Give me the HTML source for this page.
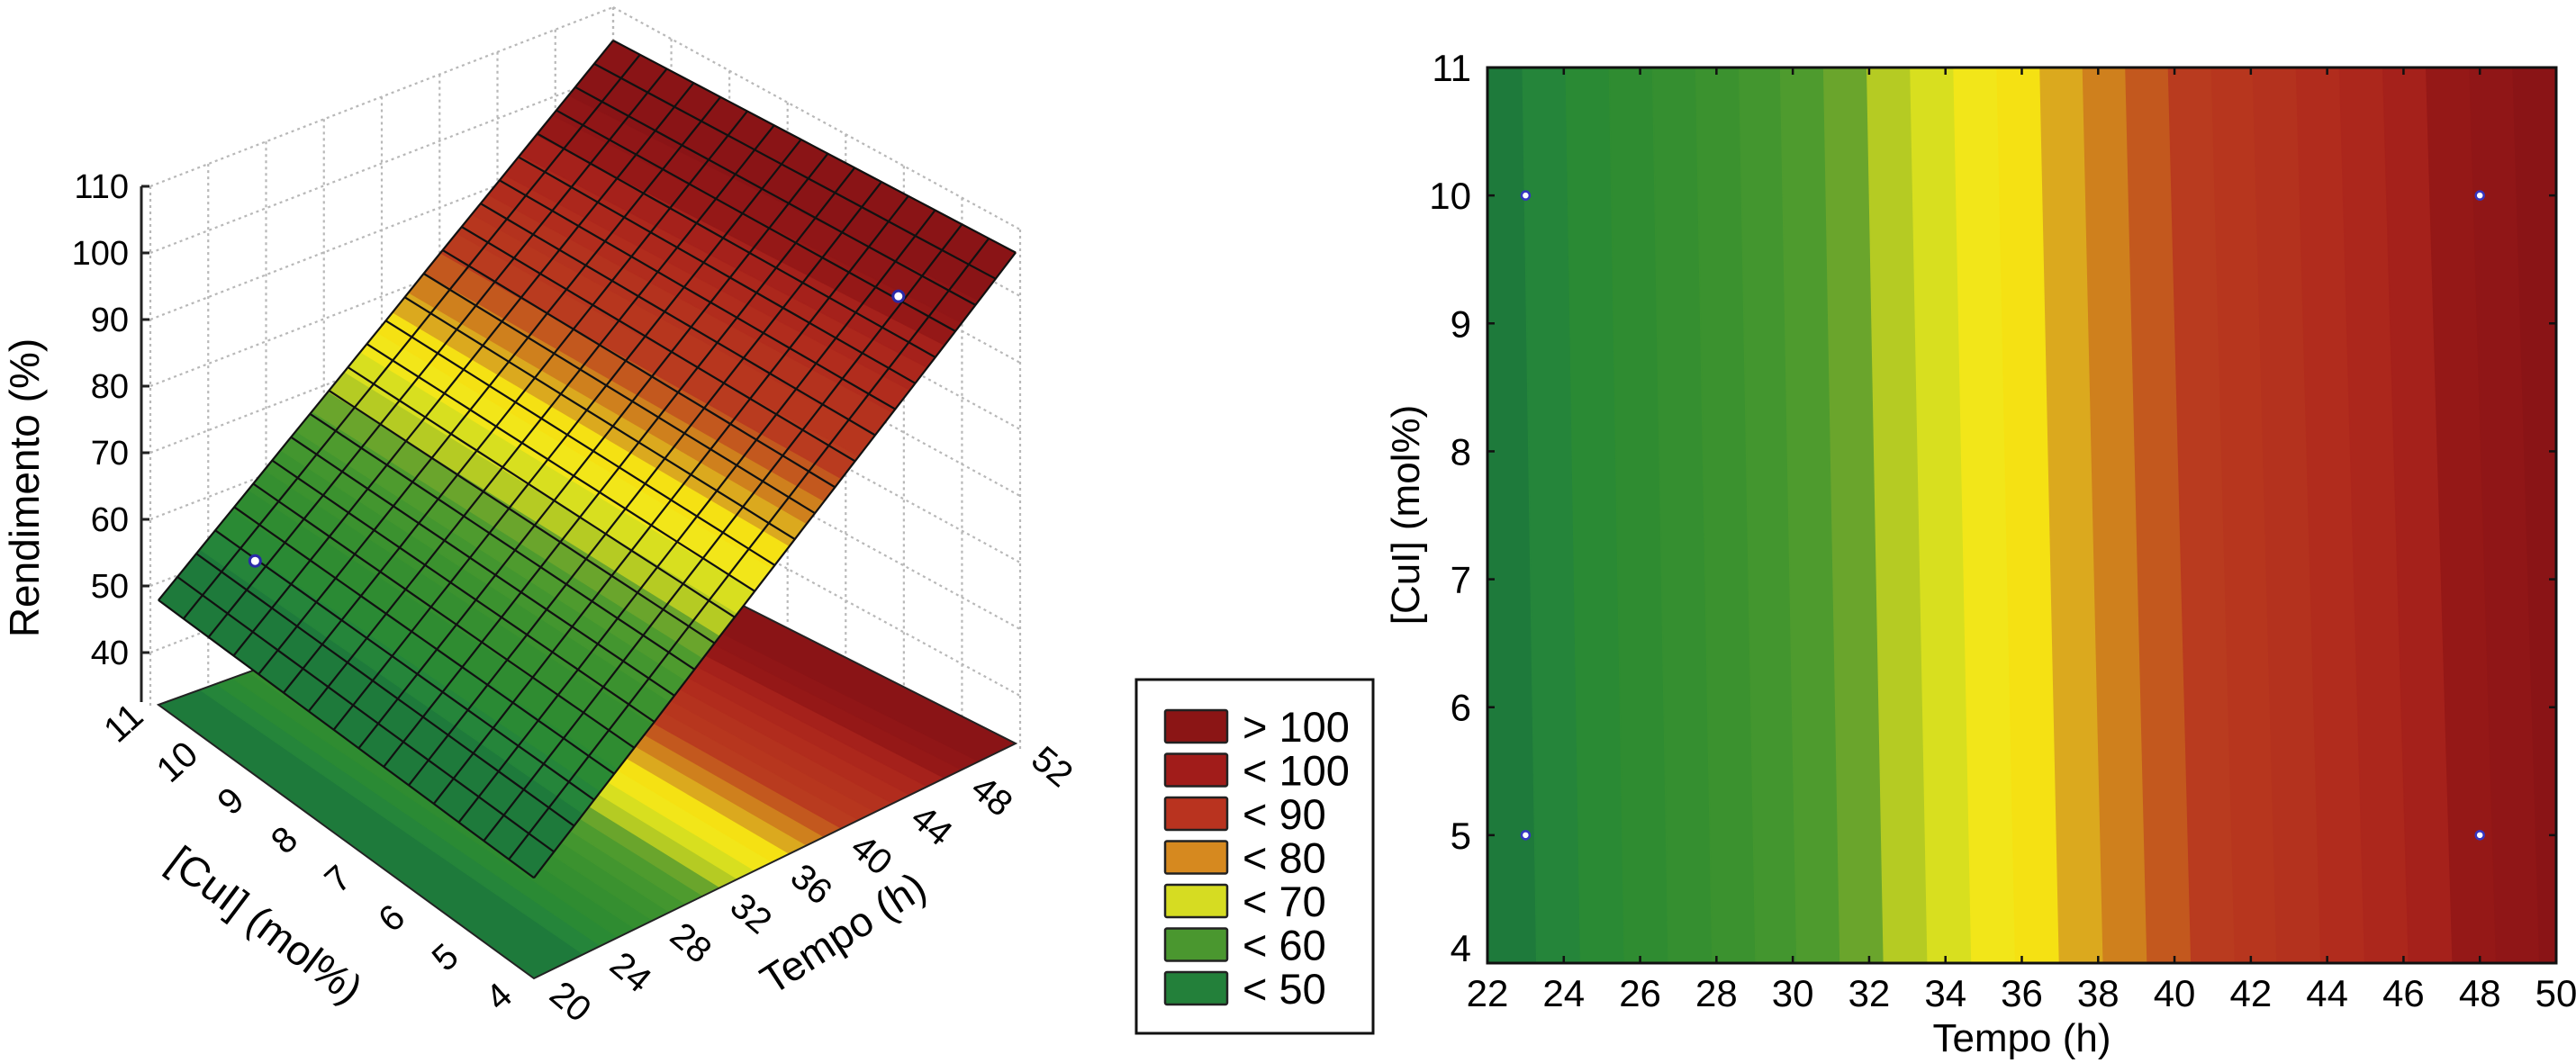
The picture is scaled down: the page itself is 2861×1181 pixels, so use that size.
<!DOCTYPE html>
<html><head><meta charset="utf-8">
<style>
html,body{margin:0;padding:0;background:#fff;}
svg{display:block;}
text{font-family:"Liberation Sans",sans-serif;fill:#000;}
</style></head>
<body>
<svg id="fig" width="2861" height="1181" viewBox="0 0 2861 1181" xmlns="http://www.w3.org/2000/svg">
<rect x="0" y="0" width="2861" height="1181" fill="#fff"/>
<g id="wall"></g>
<g id="floor"></g>
<g id="surf"></g>
<g id="surfgrid"></g>
<g id="axes3d"></g>
<g id="contour"></g>
<g id="legend"></g>
</svg>
<script>
const NS="http://www.w3.org/2000/svg";
// ---- data ----
const tempoTicks3d=[20,24,28,32,36,40,44,48,52];
const yieldAtCu11=[47.7,55.1,62.5,69.9,77.3,84.8,92.2,99.6,107.0];
const yieldAtCu4=[47.1,54.4,61.7,69.1,76.4,83.7,91.0,98.3,105.7];
const bandThresholds=[53.1,55.2,57.3,59.4,61.5,63.6,65.6,67.7,69.8,71.9,74.0,76.1,78.2,80.3,82.4,84.5,86.6,88.6,90.7,92.8,94.9,97.0,99.1,101.2];
const bandColors=['#1e7a3b','#25853a','#2a8a34','#2f8c31','#358f30','#3b922f','#43962f','#4e9b2e','#6aa52c','#b5cb23','#d8df1f','#f2e619','#f5e113','#dba91e','#cf801d','#c3581e','#b93b1f','#b7361e','#b4321e','#b12c1d','#ac271c','#a5211b','#951817','#901617','#8a1416'];
const zTickLabels=[40,50,60,70,80,90,100,110];
const cuTickLabels3d=[4,5,6,7,8,9,10,11];
const tempoTickLabels3d=[20,24,28,32,36,40,44,48,52];
const contourTempoTicks=[22,24,26,28,30,32,34,36,38,40,42,44,46,48,50];
const contourCuTicks=[4,5,6,7,8,9,10,11];
const designTempo=[23,23,48,48];
const designCu=[10,5,10,5];
const obsTempo=[23,48];
const obsCu=[10,5];
const obsYield=[57,99];
const legendLabels=['> 100','< 100','< 90','< 80','< 70','< 60','< 50'];
const legendColors=['#8b1515','#a11c1a','#b9331f','#d6891f','#d6dc22','#4a972f','#23803a'];

// ---- helpers ----
function el(tag,attrs,parent){const e=document.createElementNS(NS,tag);for(const k in attrs)e.setAttribute(k,attrs[k]);parent.appendChild(e);return e;}
function yieldAt(t,c){
  const w=(c-4)/7;
  let i=0;while(i<tempoTicks3d.length-2&&t>tempoTicks3d[i+1])i++;
  const f=(t-tempoTicks3d[i])/(tempoTicks3d[i+1]-tempoTicks3d[i]);
  const a=yieldAtCu4[i]+(yieldAtCu4[i+1]-yieldAtCu4[i])*f;
  const b=yieldAtCu11[i]+(yieldAtCu11[i+1]-yieldAtCu11[i])*f;
  return a*(1-w)+b*w;
}
function tAtValue(v,c){
  const w=(c-4)/7;const ys=tempoTicks3d.map((t,i)=>yieldAtCu4[i]*(1-w)+yieldAtCu11[i]*w);
  if(v<=ys[0])return tempoTicks3d[0]-(ys[0]-v)/((ys[1]-ys[0])/(tempoTicks3d[1]-tempoTicks3d[0]));
  for(let i=0;i<ys.length-1;i++){if(v<=ys[i+1]){return tempoTicks3d[i]+(v-ys[i])/(ys[i+1]-ys[i])*(tempoTicks3d[i+1]-tempoTicks3d[i]);}}
  const n=ys.length-1;return tempoTicks3d[n]+(v-ys[n])/((ys[n]-ys[n-1])/(tempoTicks3d[n]-tempoTicks3d[n-1]));
}
function bandIndex(v){let k=0;while(k<bandThresholds.length&&v>=bandThresholds[k])k++;return k;}
const clamp=(x,a,b)=>Math.max(a,Math.min(b,x));
function bandPolys(tmin,tmax,cs,mapper,group,namePrefix){
  for(let i=0;i<bandColors.length;i++){
    const lo=i===0?-1e9:bandThresholds[i-1], hi=i===bandColors.length-1?1e9:bandThresholds[i];
    const left=[],right=[];let any=false;
    cs.forEach(c=>{
      const a=clamp(lo<-1e8?tmin:tAtValue(lo,c),tmin,tmax), b=clamp(hi>1e8?tmax:tAtValue(hi,c),tmin,tmax);
      if(b>a+1e-6)any=true;
      left.push(mapper(a,c));right.push(mapper(b,c));
    });
    if(!any)continue;
    const pts=left.concat(right.reverse()).map(p=>p[0].toFixed(1)+','+p[1].toFixed(1)).join(' ');
    const p=el('polygon',{points:pts,fill:bandColors[i],stroke:bandColors[i],'stroke-width':1.2},group);
    
    
  }
}

// ---- 3D projection ----
const F00=[176,783],F10=[681,600],F01=[593,1087],F11=[1128,826];
const Z0=32,ZS=7.4;
function floorXY(t,c){const u=(t-20)/32,v=(11-c)/7;
  return [(1-u)*(1-v)*F00[0]+u*(1-v)*F10[0]+(1-u)*v*F01[0]+u*v*F11[0],
          (1-u)*(1-v)*F00[1]+u*(1-v)*F10[1]+(1-u)*v*F01[1]+u*v*F11[1]];}
function proj(t,c,z){const f=floorXY(t,c);return [f[0],f[1]-(z-Z0)*ZS];}

// back walls
const wall=document.getElementById('wall');
const WL0=[167,207],WL1=[681,8],WR1=[1133,255];
function wallLine(x1,y1,x2,y2,name){const l=el('line',{x1,y1,x2,y2,stroke:'#b8b8b8','stroke-width':2.2,'stroke-dasharray':'3 4'},wall);
  
  }
const zLow=32;
zTickLabels.forEach(z=>{const dy=(110-z)*ZS;
  wallLine(WL0[0],WL0[1]+dy,WL1[0],WL1[1]+dy,'left-wall-gridline-'+z);
  wallLine(WL1[0],WL1[1]+dy,WR1[0],WR1[1]+dy,'right-wall-gridline-'+z);});
tempoTickLabels3d.forEach((t,i)=>{const f=i/8;const x=WL0[0]+(WL1[0]-WL0[0])*f,y=WL0[1]+(WL1[1]-WL0[1])*f;
  wallLine(x,y,x,y+(110-zLow)*ZS,'left-wall-vline-'+t);});
cuTickLabels3d.forEach((c,i)=>{const f=(11-c)/7;const x=WL1[0]+(WR1[0]-WL1[0])*f,y=WL1[1]+(WR1[1]-WL1[1])*f;
  wallLine(x,y,x,y+(110-zLow)*ZS,'right-wall-vline-'+c);});

// floor contour
const cs3=[11,10,9,8,7,6,5,4];
bandPolys(20,52,cs3,(t,c)=>floorXY(t,c),document.getElementById('floor'),'floor');
const fo=el('polygon',{points:[F00,F10,F11,F01].map(p=>p.join(',')).join(' '),fill:'none',stroke:'#222','stroke-width':2},document.getElementById('floor'));



// surface
const surf=document.getElementById('surf');
bandPolys(20,52,cs3,(t,c)=>proj(t,c,yieldAt(t,c)),surf,'surface');
const sg=document.getElementById('surfgrid');
const NT=24,NC=15;
for(let i=0;i<=NT;i++){const t=20+32*i/NT;const pts=[];for(let k=0;k<=14;k++){const c=11-7*k/14;pts.push(proj(t,c,yieldAt(t,c)));}
  const pl=el('polyline',{points:pts.map(p=>p[0].toFixed(1)+','+p[1].toFixed(1)).join(' '),fill:'none',stroke:'#111','stroke-width':2.2},sg);
  
  }
for(let j=0;j<=NC;j++){const c=11-7*j/NC;const pts=[];for(let k=0;k<=32;k++){const t=20+k;pts.push(proj(t,c,yieldAt(t,c)));}
  const pl=el('polyline',{points:pts.map(p=>p[0].toFixed(1)+','+p[1].toFixed(1)).join(' '),fill:'none',stroke:'#111','stroke-width':2.2},sg);
  
  }
obsTempo.forEach((t,i)=>{const p=proj(t,obsCu[i],obsYield[i]);
  const c=el('circle',{cx:p[0],cy:p[1],r:6,fill:'#fff',stroke:'#2a2aa8','stroke-width':3},sg);
  
  });

// 3D axes
const ax=document.getElementById('axes3d');
const zl=el('line',{x1:157,y1:207,x2:157,y2:780,stroke:'#222','stroke-width':3},ax);


zTickLabels.forEach(z=>{const y=WL0[1]+(110-z)*ZS;
  const tk=el('line',{x1:157,y1:y,x2:166,y2:y,stroke:'#222','stroke-width':3},ax);
  
  
  const tx=el('text',{x:143,y:y+13,'text-anchor':'end','font-size':38},ax);tx.textContent=z;
  
  });
const zt=el('text',{x:0,y:0,'text-anchor':'middle','font-size':46,transform:'translate(43,542) rotate(-90)'},ax);zt.textContent='Rendimento (%)';


cuTickLabels3d.forEach(c=>{const f=floorXY(20,c);const x=f[0]-30,y=f[1]+30;
  const tx=el('text',{x:0,y:0,'text-anchor':'middle','font-size':40,transform:`translate(${x.toFixed(1)},${y.toFixed(1)}) rotate(-42)`},ax);tx.textContent=c;
  
  });
const ct=el('text',{x:0,y:0,'text-anchor':'middle','font-size':46,transform:'translate(285,1040) rotate(37)'},ax);ct.textContent='[CuI] (mol%)';


tempoTickLabels3d.forEach(t=>{const f=floorXY(t,4);const x=f[0]+32,y=f[1]+36;
  const tx=el('text',{x:0,y:0,'text-anchor':'middle','font-size':40,transform:`translate(${x.toFixed(1)},${y.toFixed(1)}) rotate(40)`},ax);tx.textContent=t;
  
  });
const tt=el('text',{x:0,y:0,'text-anchor':'middle','font-size':46,transform:'translate(945,1050) rotate(-33)'},ax);tt.textContent='Tempo (h)';



// ---- contour plot ----
const cg=document.getElementById('contour');
const PX0=1652,PX1=2839,PY0=75,PY1=1070;
const xs=t=>PX0+(t-22)*(PX1-PX0)/28;
const ys=c=>PY0+(11-c)*(PY1-PY0)/7;
bandPolys(22,50,[11,4],(t,c)=>[xs(t),ys(c)],cg,'contour');
const fr=el('rect',{x:PX0,y:PY0,width:PX1-PX0,height:PY1-PY0,fill:'none',stroke:'#111','stroke-width':3},cg);


contourTempoTicks.forEach(t=>{const x=xs(t);
  [[PY0,PY0+8],[PY1,PY1-8]].forEach(([a,b])=>{const l=el('line',{x1:x,y1:a,x2:x,y2:b,stroke:'#111','stroke-width':2.5},cg);
    
    });
  const tx=el('text',{x:x,y:1118,'text-anchor':'middle','font-size':42},cg);tx.textContent=t;
  
  });
contourCuTicks.forEach(c=>{const y=ys(c);
  [[PX0,PX0+8],[PX1,PX1-8]].forEach(([a,b])=>{const l=el('line',{x1:a,y1:y,x2:b,y2:y,stroke:'#111','stroke-width':2.5},cg);
    
    });
  const tx=el('text',{x:1634,y:(c===4?y-2:y+15),'text-anchor':'end','font-size':42},cg);tx.textContent=c;
  
  });
const xt=el('text',{x:(PX0+PX1)/2,y:1168,'text-anchor':'middle','font-size':44},cg);xt.textContent='Tempo (h)';


const yt=el('text',{x:0,y:0,'text-anchor':'middle','font-size':44,transform:'translate(1576,572) rotate(-90)'},cg);yt.textContent='[CuI] (mol%)';


designTempo.forEach((t,i)=>{const c=el('circle',{cx:xs(t),cy:ys(designCu[i]),r:4.5,fill:'#fff',stroke:'#3535c0','stroke-width':2.5},cg);
  
  });

// ---- legend ----
const lg=document.getElementById('legend');
const lb=el('rect',{x:1262,y:755,width:263,height:393,fill:'#fff',stroke:'#111','stroke-width':3},lg);


legendLabels.forEach((lab,i)=>{const cy=807+i*48.5;
  const r=el('rect',{x:1294,y:cy-18,width:69,height:36,fill:legendColors[i],stroke:'#222','stroke-width':2.5,rx:2},lg);
  
  
  const tx=el('text',{x:1380,y:cy+17,'font-size':47},lg);tx.textContent=lab;
  
  });
</script>
</body></html>
